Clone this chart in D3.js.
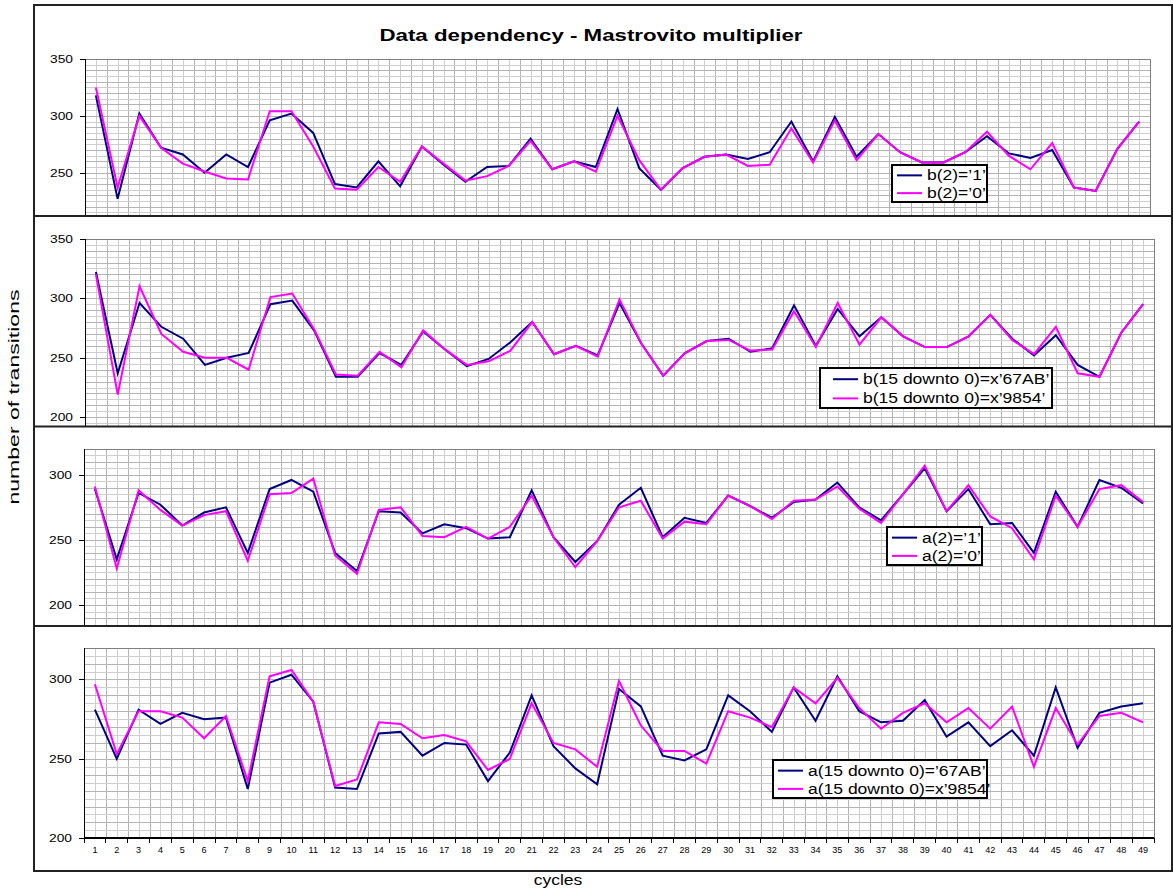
<!DOCTYPE html>
<meta charset="utf-8">
<style>

body {
  margin: 0;
  background: #fff;
}

text {
  font-family: Arial, "Liberation Sans", sans-serif;
  fill: #000;
}

.grid line {
  stroke: #cfcfcf;
  shape-rendering: crispEdges;
}
.grid line.major {
  stroke: #b4b4b4;
}

.border {
  stroke: #808080;
  shape-rendering: crispEdges;
}

.axis line, .axis-line {
  stroke: #000;
  shape-rendering: crispEdges;
}
.axis .domain {
  display: none;
}
.axis text {
  font-size: 11px;
}
.xaxis text {
  font-size: 9px;
}

.series {
  fill: none;
  stroke-width: 2px;
}

.legend rect {
  fill: #fff;
  stroke: #000;
  stroke-width: 2px;
}
.legend text {
  font-size: 14px;
}

.title {
  font-size: 17px;
  font-weight: bold;
}

.frame {
  stroke: #222;
  stroke-width: 2px;
  fill: none;
}

</style>
<svg width="1173" height="895"></svg>
<script src="https://d3js.org/d3.v7.min.js"></script>
<script>

var cycles = [1, 2, 3, 4, 5, 6, 7, 8, 9, 10, 11, 12, 13, 14, 15, 16, 17, 18, 19, 20,
  21, 22, 23, 24, 25, 26, 27, 28, 29, 30, 31, 32, 33, 34, 35, 36, 37, 38, 39, 40,
  41, 42, 43, 44, 45, 46, 47, 48, 49];

// panel 1 : b(2)
var b2One = [318, 227, 302, 272, 266, 250, 266, 255, 296, 302, 285, 240, 237, 260, 238, 273, 257,
  242, 255, 256, 280, 253, 260, 255, 306, 254, 235, 254, 264, 266, 262, 268, 295, 260, 299, 264,
  284, 268, 259, 259, 268, 282, 267, 263, 270, 237, 234, 271, 295];
var b2Zero = [325, 237, 300, 272, 258, 251, 245, 244, 304, 304, 273, 236, 235, 255, 242, 273, 258,
  243, 247, 256, 278, 253, 260, 251, 300, 261, 235, 254, 264, 266, 256, 257, 289, 259, 296, 261,
  284, 268, 259, 259, 268, 286, 265, 253, 276, 237, 234, 271, 295];

// panel 2 : b(15 downto 0)
var bHex67AB = [322, 237, 296, 276, 266, 244, 250, 254, 295, 298, 273, 234, 234, 254, 244, 272, 257,
  243, 249, 263, 280, 253, 260, 252, 296, 262, 235, 254, 264, 266, 255, 258, 294, 260, 291, 268,
  284, 268, 259, 259, 268, 286, 266, 252, 269, 244, 234, 271, 295];
var bHex9854 = [320, 219, 310, 270, 255, 250, 250, 240, 301, 304, 274, 236, 235, 255, 242, 273, 257,
  244, 247, 256, 280, 253, 260, 251, 299, 262, 235, 254, 264, 265, 256, 257, 289, 259, 296, 261,
  284, 268, 259, 259, 268, 286, 265, 253, 276, 237, 234, 271, 295];

// panel 3 : a(2)
var a2One = [289, 235, 286, 277, 261, 271, 275, 240, 289, 296, 287, 240, 226, 272, 271, 255, 262,
  259, 251, 252, 288, 252, 233, 249, 277, 290, 252, 267, 263, 284, 276, 267, 279, 281, 294, 275,
  265, 285, 305, 272, 289, 262, 263, 240, 287, 260, 296, 290, 278];
var a2Zero = [291, 228, 288, 273, 261, 269, 272, 234, 285, 286, 297, 238, 224, 273, 275, 253, 252,
  260, 251, 260, 284, 252, 229, 249, 275, 280, 251, 264, 262, 284, 276, 266, 280, 281, 291, 274,
  263, 285, 307, 272, 292, 268, 259, 235, 284, 260, 289, 292, 279];

// panel 4 : a(15 downto 0)
var aHex67AB = [281, 250, 281, 272, 279, 275, 276, 231, 298, 303, 286, 232, 231, 266, 267, 252, 260,
  259, 236, 254, 290, 258, 244, 234, 294, 283, 252, 249, 256, 290, 280, 267, 295, 274, 302, 280,
  273, 274, 287, 264, 273, 258, 268, 252, 295, 257, 279, 283, 285];
var aHex9854 = [297, 253, 280, 280, 276, 263, 277, 236, 302, 306, 286, 233, 237, 273, 272, 263, 265,
  261, 243, 250, 285, 260, 256, 245, 299, 271, 255, 255, 247, 280, 276, 270, 295, 285, 301, 282,
  269, 279, 285, 273, 282, 269, 283, 245, 282, 259, 277, 279, 273];

var names1 = ["b(2)=\u20191\u2019", "b(2)=\u20190\u2019"];
var names2 = ["b(15 downto 0)=x\u201967AB\u2019", "b(15 downto 0)=x\u20199854\u2019"];
var names3 = ["a(2)=\u20191\u2019", "a(2)=\u20190\u2019"];
var names4 = ["a(15 downto 0)=\u201967AB\u2019", "a(15 downto 0)=x\u20199854\u2019"];

var ticks1 = [250, 300, 350],
    ticks2 = [200, 250, 300, 350],
    ticks3 = [200, 250, 300],
    ticks4 = [200, 250, 300];

var colors = ["#000080", "#ff00ff"];

var svg = d3.select("svg"),
    frameLeft = 34,
    frameRight = 1172;

// stretch text horizontally, the picture is wider than the fonts
function stretch(sel, k) {
  sel.each(function() {
    var w = this.getComputedTextLength();
    d3.select(this).attr("textLength", w * k).attr("lengthAdjust", "spacingAndGlyphs");
  });
}

var panels = [
  {top: 5, bottom: 216, left: 85, right: 1150, domain: [250, 350], range: [172.7, 59],
   ticks: ticks1, series: [b2One, b2Zero], names: names1, legend: {x: 892, y: 165, w: 95, h: 37, pad: 5}},
  {top: 216, bottom: 426.5, left: 85, right: 1154, domain: [200, 350], range: [417.3, 238.7],
   ticks: ticks2, series: [bHex67AB, bHex9854], names: names2, legend: {x: 820, y: 368, w: 232, h: 40, pad: 13}},
  {top: 426.5, bottom: 626, left: 84, right: 1154, domain: [200, 320], range: [605, 448.7],
   ticks: ticks3, series: [a2One, a2Zero], names: names3, legend: {x: 887, y: 527, w: 95, h: 38, pad: 5}},
  {top: 626, bottom: 838.3, left: 84, right: 1154, domain: [200, 320], range: [838.3, 647.7],
   ticks: ticks4, series: [aHex67AB, aHex9854], names: names4, legend: {x: 773, y: 760, w: 214, h: 38, pad: 5}, xAxis: true}
];

var defs = svg.append("defs");

panels.forEach(function(p, i) {
  var x = d3.scaleBand().domain(cycles).range([p.left, p.right]),
      y = d3.scaleLinear().domain(p.domain).range(p.range),
      plotTop = y(p.domain[1]),
      step = x.step(),
      vMin = y.invert(p.bottom);

  defs.append("clipPath").attr("id", "clip" + i)
    .append("rect")
      .attr("x", p.left).attr("y", plotTop - 1)
      .attr("width", p.right - p.left + 1).attr("height", p.bottom - plotTop + 1);

  var g = svg.append("g").attr("clip-path", "url(#clip" + i + ")");

  var grid = g.append("g").attr("class", "grid");

  grid.selectAll(".v")
    .data(d3.range(1, cycles.length * 2))
    .enter().append("line")
      .attr("class", function(k) { return k % 2 ? "v" : "v major"; })
      .attr("x1", function(k) { return Math.round(p.left + k * step / 2) + 0.5; })
      .attr("x2", function(k) { return Math.round(p.left + k * step / 2) + 0.5; })
      .attr("y1", plotTop)
      .attr("y2", p.bottom);

  grid.selectAll(".h")
    .data(d3.range(Math.ceil(vMin / 5) * 5, p.domain[1], 5))
    .enter().append("line")
      .attr("class", function(v) { return v % 10 ? "h" : "h major"; })
      .attr("x1", p.left)
      .attr("x2", p.right)
      .attr("y1", function(v) { return Math.round(y(v)) + 0.5; })
      .attr("y2", function(v) { return Math.round(y(v)) + 0.5; });

  g.append("line").attr("class", "border")
      .attr("x1", p.left).attr("x2", p.right)
      .attr("y1", Math.round(plotTop) + 0.5).attr("y2", Math.round(plotTop) + 0.5);
  g.append("line").attr("class", "border")
      .attr("x1", Math.round(p.right) + 0.5).attr("x2", Math.round(p.right) + 0.5)
      .attr("y1", plotTop).attr("y2", p.bottom);

  var line = d3.line()
      .x(function(d, j) { return x(cycles[j]) + step / 2; })
      .y(function(d) { return y(d); });

  g.selectAll(".series")
    .data(p.series)
    .enter().append("path")
      .attr("class", "series")
      .attr("stroke", function(d, j) { return colors[j]; })
      .attr("d", line);

  // y axis
  svg.append("line").attr("class", "axis-line")
      .attr("x1", p.left + 0.5).attr("x2", p.left + 0.5)
      .attr("y1", plotTop).attr("y2", p.bottom)
      .style("stroke-width", 1.5);

  var ya = svg.append("g")
      .attr("class", "axis")
      .attr("transform", "translate(" + p.left + ",0)")
      .call(d3.axisLeft(y).tickValues(p.ticks).tickSize(5).tickPadding(7));
  stretch(ya.selectAll("text"), 1.25);

  if (p.xAxis) {
    svg.append("line").attr("class", "axis-line")
        .attr("x1", p.left).attr("x2", p.right)
        .attr("y1", p.bottom).attr("y2", p.bottom)
        .style("stroke-width", 2);

    svg.append("g").attr("class", "axis")
      .selectAll("line")
      .data(cycles.concat([null]))
      .enter().append("line")
        .attr("x1", function(d) { return d === null ? p.right : x(d); })
        .attr("x2", function(d) { return d === null ? p.right : x(d); })
        .attr("y1", p.bottom)
        .attr("y2", p.bottom + 5);

    svg.append("g")
        .attr("class", "axis xaxis")
        .attr("transform", "translate(0," + p.bottom + ")")
        .call(d3.axisBottom(x).tickSize(0).tickPadding(8));
  }

  // legend
  var L = p.legend,
      legend = svg.append("g").attr("class", "legend");

  legend.append("rect")
      .attr("x", L.x).attr("y", L.y)
      .attr("width", L.w).attr("height", L.h);

  var row = legend.selectAll(".row")
    .data(p.names)
    .enter().append("g")
      .attr("class", "row")
      .attr("transform", function(d, j) { return "translate(" + L.x + "," + (L.y + L.h * (j ? 0.76 : 0.28)) + ")"; });

  row.append("line")
      .attr("x1", L.pad).attr("x2", L.pad + 25)
      .attr("stroke", function(d, j) { return colors[j]; })
      .attr("stroke-width", 2);

  var lt = row.append("text")
      .attr("x", L.pad + 30)
      .attr("dy", "0.36em")
      .text(function(d) { return d; });
  stretch(lt, 1.25);
});

// panel frames
svg.append("rect").attr("class", "frame")
    .attr("x", frameLeft).attr("y", 5)
    .attr("width", frameRight - frameLeft).attr("height", 866);

[216, 426.5, 626].forEach(function(yy) {
  svg.append("line").attr("class", "frame")
      .attr("x1", frameLeft).attr("x2", frameRight)
      .attr("y1", yy).attr("y2", yy);
});

svg.append("text")
    .attr("class", "title")
    .attr("x", 591)
    .attr("y", 41)
    .attr("text-anchor", "middle")
    .attr("textLength", 423)
    .attr("lengthAdjust", "spacingAndGlyphs")
    .text("Data dependency - Mastrovito multiplier");

svg.append("text")
    .attr("transform", "translate(19,397)rotate(-90)")
    .attr("text-anchor", "middle")
    .style("font-size", "15px")
    .attr("textLength", 215)
    .attr("lengthAdjust", "spacingAndGlyphs")
    .text("number of transitions");

var xt = svg.append("text")
    .attr("x", 558)
    .attr("y", 885)
    .attr("text-anchor", "middle")
    .style("font-size", "14px")
    .text("cycles");
stretch(xt, 1.25);

</script>
